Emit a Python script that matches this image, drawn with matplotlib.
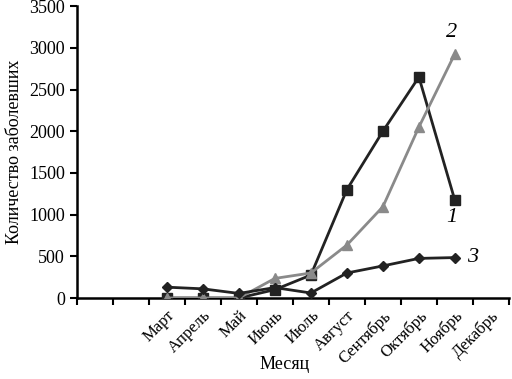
import matplotlib
matplotlib.use('Agg')
import matplotlib.pyplot as plt
import numpy as np

plt.rcParams['font.family'] = ['Liberation Serif', 'DejaVu Serif']

# categories (two empty slots before March)
months = ['', '', 'Март', 'Апрель', 'Май', 'Июнь', 'Июль', 'Август',
          'Сентябрь', 'Октябрь', 'Ноябрь', 'Декабрь']

# values, March .. November
s1 = [0, 0, 0, 100, 275, 1300, 2000, 2650, 1170]
s2 = [0, 0, 0, 235, 300, 635, 1095, 2050, 2930]
s3 = [130, 110, 55, 125, 60, 300, 385, 475, 485]

fig = plt.figure(figsize=(5.12, 3.79), dpi=100)
ax = fig.add_axes([0.150, 0.2137, 0.844, 0.770])

x = np.arange(2, 11) + 0.5

ax.plot(x, s1, '-s', color='#222222', lw=2, ms=7, zorder=3)
ax.plot(x, s2, '-^', color='#8a8a8a', lw=2, ms=7, zorder=4)
ax.plot(x, s3, '-D', color='#222222', lw=2, ms=5.5, zorder=5)

ax.text(x[-1] - 0.1, 970, '1', fontsize=16, style='italic', ha='center', va='center')
ax.text(x[-1] - 0.1, 3180, '2', fontsize=16, style='italic', ha='center', va='center')
ax.text(x[-1] + 0.35, 480, '3', fontsize=16, style='italic', ha='left', va='center')

ax.set_xlim(0, 12)
ax.set_ylim(0, 3500)
ax.set_yticks(range(0, 3501, 500))
ax.set_xticks(range(0, 13))
ax.set_xticklabels([])
ax.set_xticks(np.arange(12) + 0.5, minor=True)
ax.set_xticklabels(months, minor=True, rotation=45, ha='right', rotation_mode='anchor')
ax.tick_params(axis='x', which='minor', length=0, pad=7, labelsize=12)
ax.tick_params(axis='x', which='major', length=5, width=1.5, direction='out')
ax.tick_params(axis='y', length=5, width=1.5, direction='out', labelsize=13)

for sp in ['top', 'right']:
    ax.spines[sp].set_visible(False)
for sp in ['left', 'bottom']:
    ax.spines[sp].set_linewidth(1.8)

ax.set_xlabel('Месяц', fontsize=13)
ax.set_ylabel('Количество заболевших', fontsize=13)
ax.xaxis.set_label_coords(0.48, -0.2)
ax.yaxis.set_label_coords(-0.125, 0.5)

fig.savefig('out.png', dpi=100)
